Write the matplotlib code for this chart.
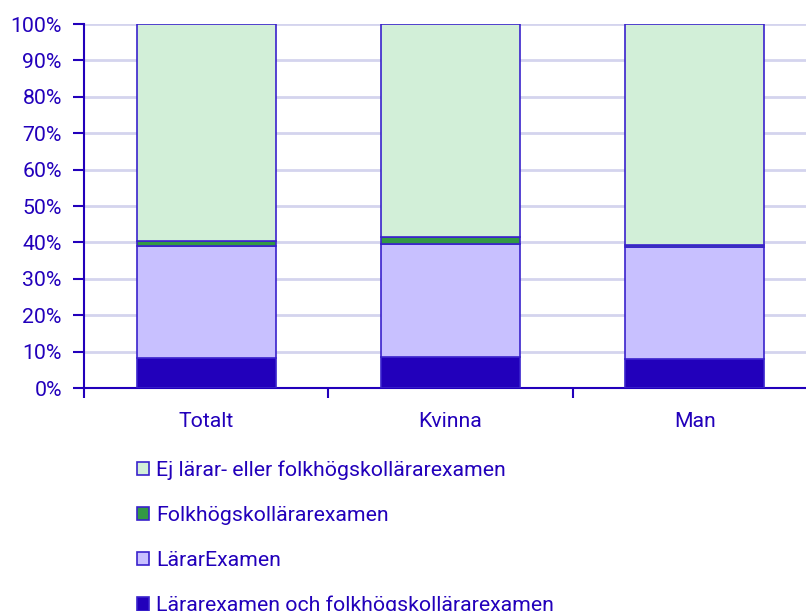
import numpy as np
import matplotlib.pyplot as plt
from matplotlib.patches import Patch
from matplotlib.ticker import FixedLocator, PercentFormatter

plt.rcParams['font.family'] = ['Roboto', 'DejaVu Sans']

# Data (percent)
kategorier = ['Totalt', 'Kvinna', 'Man']
lar_och_folk = [8.2, 8.4, 8.0]
lararexamen = [30.8, 31.2, 30.7]
folkhogskol = [1.3, 1.8, 0.7]
ej_examen = [59.7, 58.6, 60.6]

serier = ['Lärarexamen och folkhögskollärarexamen', 'LärarExamen',
          'Folkhögskollärarexamen', 'Ej lärar- eller folkhögskollärarexamen']
farger = ['#2200bb', '#c8c0ff', '#339944', '#d2efd8']
textfarg = '#2200bb'
kantfarg = '#3a22cc'
fs = 15.3

fig = plt.figure(figsize=(8.06, 6.11), dpi=100)
# Axes goes slightly past right edge like the original
ax = fig.add_axes([84 / 806, 1 - 388 / 611, (817 - 84) / 806, (388 - 24) / 611])

x = np.arange(len(kategorier))
botten = np.zeros(len(kategorier))
handles = []
for namn, vals, farg in zip(serier, [lar_och_folk, lararexamen, folkhogskol, ej_examen], farger):
    ax.bar(x, vals, width=0.57, bottom=botten, color=farg, edgecolor=kantfarg,
           linewidth=1.2, zorder=3)
    botten += np.array(vals)
    handles.append(Patch(facecolor=farg, edgecolor=kantfarg, linewidth=1.2, label=namn))

ax.set_xlim(-0.5, 2.5)
ax.set_ylim(0, 100)
ax.set_yticks(np.arange(0, 101, 10))
ax.yaxis.set_major_formatter(PercentFormatter(decimals=0))
ax.grid(axis='y', color='#d4d4ee', linewidth=2, zorder=0)

ax.set_xticks(x)
ax.set_xticklabels(kategorier)
ax.xaxis.set_minor_locator(FixedLocator([-0.5, 0.5, 1.5, 2.5]))
ax.tick_params(axis='x', which='major', length=0, pad=17, labelsize=fs, labelcolor=textfarg)
ax.tick_params(axis='x', which='minor', length=7, width=1.5, color=textfarg, direction='out')
ax.tick_params(axis='y', length=8, width=1.5, pad=8, color=textfarg, labelsize=fs,
               labelcolor=textfarg)

for s in ['top', 'right']:
    ax.spines[s].set_visible(False)
for s in ['bottom', 'left']:
    ax.spines[s].set_color(textfarg)
    ax.spines[s].set_linewidth(1.5)

# Legend in reverse order, one per row, under the chart
leg = fig.legend(handles=handles[::-1], loc='upper left', bbox_to_anchor=(126 / 806, 1 - 450 / 611),
                 frameon=False, fontsize=fs, labelcolor=textfarg, handlelength=0.6,
                 handleheight=0.6, handletextpad=0.3, labelspacing=1.22, borderpad=0)

fig.savefig('out.png', dpi=100)
